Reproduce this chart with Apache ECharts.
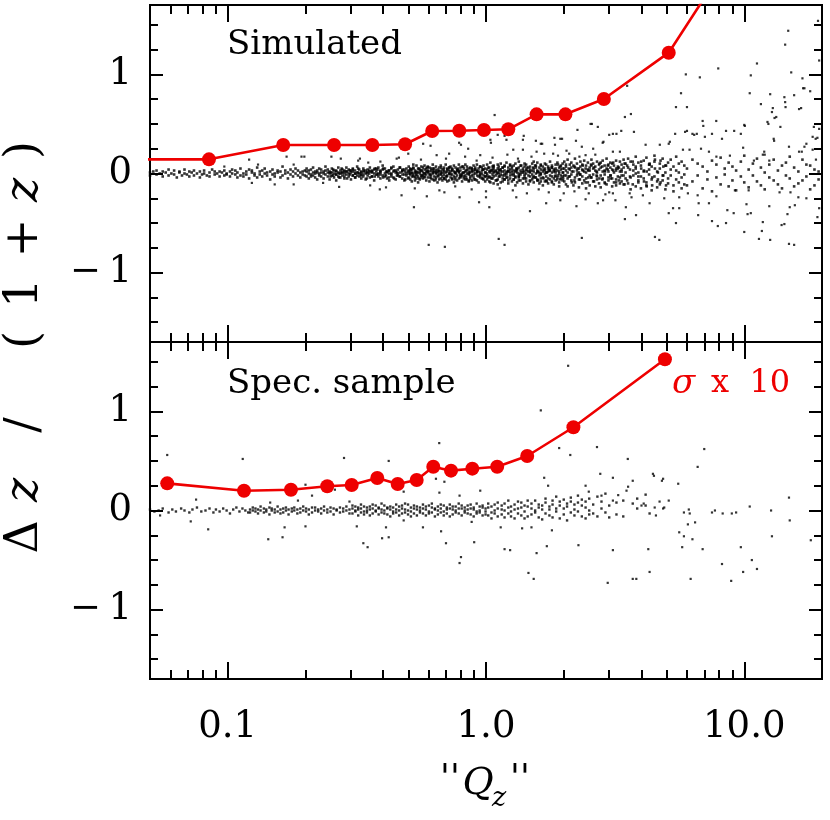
<!DOCTYPE html>
<html><head><meta charset="utf-8">
<script src="https://cdn.jsdelivr.net/npm/echarts@6/dist/echarts.min.js"></script>
<style>html,body{margin:0;padding:0;background:#fff}#c{width:830px;height:820px}</style>
</head><body><div id="c"></div>
<script>
// ---------- axes ----------
const xMin = 0.05, xMax = 20;
const yMin = -1.7, yMax = 1.7;
const xMajor = [0.1, 1, 10];
const xMinor = [0.06,0.07,0.08,0.09,0.2,0.3,0.4,0.5,0.6,0.7,0.8,0.9,2,3,4,5,6,7,8,9];
const xTickLabels = ['0.1','1.0','10.0'];
const yMajor = [-1, 0, 1];
const yMinor = [-1.5,-1.25,-0.75,-0.5,-0.25,0.25,0.5,0.75,1.25,1.5];
const yTickLabels = ['\u2212\u20091','0','1'];

// ---------- sigma x 10 curves ----------
const simSigmaQ = [0.035,0.0846,0.164,0.258,0.363,0.486,0.619,0.788,0.982,1.22,1.57,2.03,2.86,5.10,7.0];
const simSigmaV = [0.143,0.143,0.288,0.288,0.288,0.295,0.429,0.432,0.439,0.446,0.597,0.597,0.752,1.219,1.77];
const specSigmaQ = [0.0583,0.1156,0.1757,0.2428,0.3019,0.3793,0.455,0.539,0.625,0.732,0.885,1.105,1.444,2.18,4.93];
const specSigmaV = [0.274,0.20,0.21,0.244,0.257,0.328,0.267,0.308,0.442,0.402,0.422,0.442,0.55,0.84,1.526];

// ---------- simulated sample: core band (rows: [Qz, dz1, dz2, ...]) ----------
const simBand = [
[.050,.01,-.02],[.0515,.02],[.053,-.01,.03],[.0545,0],[.056,-.03,.02],[.0575,.01],[.059,-.02,.04],[.0605,0],[.062,.03,-.01],[.0635,-.04],[.065,.01,.02],[.0665,-.02],[.068,0,.04],[.0695,-.01],[.071,.02,-.03],[.0725,.01],[.074,-.02,.03],[.076,0],[.078,.02,-.04],[.0795,-.01],[.081,.03,0],[.083,-.02],[.085,.01,-.03],[.087,.04],[.089,-.01,.02],[.091,0],[.093,-.03,.02],[.095,.01],[.097,-.02,.03],[.099,0,-.01],
[.102,.02,-.03],[.104,0,.04],[.107,-.01,.03],[.109,-.04,.01],[.112,-.02,.05],[.115,0,-.03],[.118,.02,-.01],[.121,.04,-.05],[.124,.01,.03],[.127,-.02,0],[.130,.06,-.04],[.133,.02,-.01],[.136,.03,-.03],[.139,0,.05],[.142,-.02,.01],[.146,-.06,.02],[.149,.04,-.01],[.152,0,-.03],[.156,.03,.01],[.160,-.04,.02],[.163,.07,-.02],[.167,0,.03],[.171,-.05,.01],[.175,-.01,.04],[.179,-.03,.02],[.183,.05,0],[.187,-.02,.03],[.191,.01,-.04],[.195,-.01,.02],[.199,.03,-.02],
[.202,.02,-.03,.05],[.206,0,-.05,.03],[.210,-.01,.04,-.03],[.214,.06,-.02,.01],[.218,-.04,.02,0],[.222,.03,-.06,.01],[.226,-.02,.05,0],[.230,.01,-.03,.04],[.235,-.05,.02,0],[.239,.03,-.01,.07],[.244,-.03,.01,.04],[.248,0,-.06,.02],[.253,.05,-.02,.01],[.258,-.04,.03,0],[.263,.02,-.01,-.07],[.268,.06,-.03,.01],[.273,0,.03,-.04],[.278,-.02,.04,.01],[.283,.03,-.05,0],[.288,-.01,.02,.06],[.294,.04,-.03,0],[.300,-.06,.01,.03],[.305,.02,-.02,.05],[.311,-.04,0,.03],[.317,.01,.07,-.02],[.323,-.03,.04,0],[.329,.02,-.05,.01],[.335,.05,-.01,-.03],[.342,0,.03,-.06],[.348,.04,-.02,.01],[.355,-.04,.02,.06],[.362,.01,-.03,.03],[.369,-.07,.04,0],[.376,.02,-.01,.05],[.383,-.03,.06,0],[.390,.03,-.05,.01],[.398,-.02,.04,.08],[.406,.05,-.03,0],[.414,-.05,.02,.01],[.422,.03,-.07,0],[.430,-.01,.05,-.03],[.438,.02,-.04,.07],[.447,-.06,.01,.03],[.456,.04,-.02,0],[.465,-.03,.06,.01],[.474,.02,-.05,.03],[.483,-.01,.04,-.07],[.492,.05,-.02,0],
[.502,.03,-.04,.07,0],[.509,-.06,.02,.05,-.01],[.516,.01,-.08,.04,-.03],[.523,.06,-.02,0,.09],[.531,-.04,.03,-.07,.01],[.538,.02,-.01,.08,-.05],[.546,-.03,.05,.01,-.09],[.554,.04,-.06,.02,0],[.562,-.02,.07,-.04,.03],[.570,.01,-.05,.06,-.02],[.578,.08,-.03,0,.04],[.587,-.07,.02,.05,-.01],[.595,.03,-.04,.01,.07],[.604,-.01,.06,-.08,.02],[.613,.05,-.02,.03,-.05],[.622,-.06,.01,.09,0],[.631,.02,-.03,.05,-.07],[.640,.07,0,-.04,.03],[.649,-.02,.04,-.09,.01],[.659,.03,-.06,.06,-.01],[.668,-.05,.02,.08,0],[.678,.01,-.07,.04,-.03],[.688,.06,-.01,-.05,.02],[.698,-.03,.09,.01,-.06],[.708,.04,-.02,.05,-.08],[.719,-.07,.03,0,.06],[.729,.02,-.04,.07,-.01],[.740,-.01,.05,-.06,.03],[.751,.08,-.03,.02,-.09],[.762,-.04,.01,.06,0],[.773,.03,-.07,.04,-.02],[.785,-.05,.02,.09,.01],[.796,.06,-.01,-.04,.03],[.808,-.02,.07,-.08,0],[.820,.01,-.05,.05,-.03],[.832,.09,-.02,.02,-.06],[.844,-.06,.04,0,.07],[.857,.02,-.08,.05,-.01],[.869,-.03,.06,.01,-.05],[.882,.05,-.02,-.07,.03],[.895,-.01,.08,.02,-.04],[.909,.04,-.06,.06,0],[.922,-.07,.01,.03,.09],[.936,.02,-.03,-.09,.05],[.950,-.04,.07,.01,-.02],[.964,.06,-.05,.03,0],[.978,-.02,.04,-.06,.08],[.993,.01,-.08,.05,-.03],
[1.01,.04,-.06,.09,0,-.02],[1.03,-.08,.02,.06,-.03],[1.04,.01,-.04,.11,-.09,.03],[1.06,.07,-.01,-.05,.04],[1.07,-.03,.05,-.10,.01,.08],[1.09,.02,-.07,.03,-.02],[1.11,-.06,.09,.01,.05,-.11],[1.12,.03,-.03,.07,0],[1.14,-.09,.04,-.01,.10,.02],[1.16,.06,-.05,.02,-.08],[1.18,-.02,.08,-.06,.03,0],[1.20,.11,-.04,.01,-.01],[1.22,-.07,.03,.06,-.10,.02],[1.24,.04,-.02,-.05,.09],[1.26,-.01,.07,.02,-.08,.05],[1.28,.08,-.06,0,.03],[1.30,-.04,.02,.10,-.03,-.12],[1.32,.05,-.09,.04,.01],[1.34,-.02,.06,-.04,.12,0],[1.36,.03,-.07,.08,-.01],[1.39,-.10,.01,.05,-.05,.03],[1.41,.07,-.03,.02,.10],[1.43,-.05,.09,-.08,0,.04],[1.46,.02,-.02,.06,-.11],[1.48,-.08,.04,.01,.07,-.03],[1.51,.10,-.06,.03,-.01],[1.53,-.03,.05,-.09,.02,.12],[1.56,.06,-.04,0,.08],[1.58,-.06,.11,.03,-.07,.01],[1.61,.01,-.10,.06,-.02],[1.63,.09,-.01,-.05,.04,-.08],[1.66,-.04,.07,.02,-.12],[1.69,.03,-.08,.10,0,.05],[1.71,-.07,.01,-.03,.09],[1.74,.05,-.05,.07,-.10,.02],[1.77,-.02,.12,-.06,.03],[1.80,.08,-.03,.01,-.09,.06],[1.83,-.05,.04,-.11,.02],[1.86,.01,-.07,.09,.05,-.02],[1.89,.11,-.04,.03,-.06],[1.92,-.09,.06,0,.02,-.13],[1.95,.04,-.02,.08,-.05],[1.98,-.03,.10,-.07,.01,.05],
[2.01,.05,-.08,.12,-.02],[2.04,-.11,.03,.07],[2.07,.01,-.05,.14,-.13],[2.11,.09,-.03,.04],[2.14,-.07,.11,-.01,.06],[2.18,.02,-.12,.08],[2.21,-.04,.06,-.09,.15],[2.25,.10,-.02,.03],[2.29,-.14,.05,-.06,.01],[2.32,.07,-.01,.12],[2.36,-.03,.09,-.10,.04],[2.40,.13,-.07,.02],[2.44,-.05,.01,.08,-.15],[2.48,.04,-.09,.11],[2.52,-.12,.06,-.02,.03],[2.56,.08,-.04,.14],[2.60,-.01,.10,-.08,.05],[2.65,.03,-.13,.07],[2.69,-.06,.12,.01,-.03],[2.74,.09,-.10,.04],[2.78,-.02,.06,-.14,.11],[2.83,.13,-.05,.02],[2.88,-.09,.03,.08,-.01],[2.93,.05,-.11,.15],[2.98,-.04,.09,-.07,.02],[3.03,.11,-.02,.06],[3.08,-.13,.04,-.05,.10],[3.13,.01,.08,-.09],[3.19,-.06,.13,.03,-.12],[3.24,.07,-.03,.05],[3.30,-.10,.02,.12,-.04],[3.35,.04,-.08,.09],[3.41,-.02,.14,-.11,.06],[3.47,.10,-.05,.01],
[3.55,.06,-.10,.15],[3.63,-.04,.12,-.16],[3.72,.09,-.02,.03],[3.80,-.13,.17,.05],[3.89,.01,-.07,.11],[3.98,-.15,.08,-.03],[4.08,.13,-.05,.02],[4.18,-.09,.16,-.12],[4.28,.04,-.01,.09],[4.38,-.17,.07,-.06],[4.49,.12,-.03,.18],[4.60,-.08,.02,-.14],[4.71,.10,-.11,.05],[4.83,-.02,.15,-.07],[4.95,.08,-.16,.01],[5.07,-.05,.11,-.10],[5.19,.14,-.02,.04],[5.32,-.12,.07,-.18],[5.45,.03,.17,-.06],[5.58,-.09,.10,.01],[5.72,.12,-.04,-.15],[5.86,-.01,.08,-.11],
[6.0,.05,-.12],[6.3,-.08,.14],[6.6,.10,-.02],[6.9,-.15,.07],[7.2,.02,-.06],[7.5,.13,-.18],[7.8,-.04,.09],[8.1,.16,-.11],[8.4,-.01,.05],[8.7,-.13,.11],[9.0,.07,-.07],[9.3,-.17,.03],[9.7,.12,-.03],[10.0,-.09,.18],[10.4,.04,-.14],[10.8,-.02,.10],[11.2,.15,-.08],[11.6,-.12,.06],[12.0,.01,-.16],[12.5,.09,-.04],[13.0,-.07,.14],[13.5,.03,-.11],[14.0,-.15,.08],[14.5,.11,-.02],[15.0,-.05,.17],[15.6,.06,-.13],[16.2,-.10,.02],[16.8,.14,-.07],[17.4,-.03,.09],[18.0,.08,-.16],[18.7,-.12,.04],[19.4,.02,-.06]
];
// extra points filling the densest part of the band
const simCore = [
[.250,.01,-.03],[.256,-.02,.04],[.263,.03,-.01],[.270,0,-.04],[.276,.05,.01],[.283,-.03,.02],[.290,.02,-.05],[.297,-.01,.03],[.305,.04,-.02],[.312,-.04,0],[.320,.01,.05],[.328,-.02,-.01],[.336,.03,.02],[.345,-.05,.01],[.353,0,.03],[.362,.02,-.03],[.371,-.03,.05],[.380,.04,-.01],[.390,-.01,.02],[.400,.05,-.04],
[.410,.02,-.02],[.420,-.04,.03],[.430,0,.06],[.441,.03,-.05],[.452,-.02,.01],[.463,.06,-.03],[.475,-.01,.04],[.487,.02,-.06],[.499,-.05,.02],[.511,.04,0],[.524,-.03,.05],[.537,.01,-.02],[.550,.05,-.05],[.564,-.02,.03],[.578,0,-.04],[.593,.06,.02],[.608,-.04,-.01],[.623,.03,.05],[.638,-.06,.01],[.654,.02,-.03],
[.671,-.01,.06],[.687,.04,-.05],[.705,-.03,.02],[.722,.06,0],[.740,-.05,.04],[.759,.01,-.06],[.778,.03,.05],[.797,-.02,-.03],[.817,.07,.01],[.838,-.04,.03],[.859,0,-.07],[.880,.05,.02],[.902,-.06,.04],[.925,.02,-.02],[.948,-.01,.07],[.972,.04,-.05],[.996,-.03,.01],[1.02,.06,-.04],[1.05,-.05,.03],[1.07,.02,.07],
[1.10,-.07,0],[1.13,.04,-.03],[1.16,-.02,.06],[1.18,.07,-.06],[1.21,-.04,.02],[1.24,.01,.08],[1.28,-.06,-.02],[1.31,.05,.03],[1.34,-.03,-.07],[1.37,.08,.01],[1.41,-.01,-.05],[1.44,.03,.06],[1.48,-.07,.02],[1.52,.06,-.04],[1.55,-.04,.08],[1.59,.02,-.07],[1.63,.08,0],[1.67,-.05,.04],[1.72,.01,-.08],[1.76,.05,.03],
[1.80,-.08,.06],[1.85,.03,-.03],[1.90,-.02,.09],[1.94,.07,-.06],[1.99,-.05,.01],[2.04,.09,-.02],[2.09,-.03,.05],[2.15,.02,-.09],[2.20,-.07,.07],[2.26,.05,0],[2.31,-.01,-.06],[2.37,.08,.03],[2.43,-.09,.05],[2.49,.03,-.04],[2.55,-.04,.09],[2.62,.06,-.08],[2.68,-.02,.02],[2.75,.1,-.05],[2.82,-.06,.07],[2.89,.02,-.1],
[2.96,.08,.04],[3.04,-.05,-.02],[3.11,.03,.11],[3.19,-.09,.05],[3.27,.06,-.07],[3.35,-.02,.02],[3.44,.1,-.11],[3.52,-.07,.08],[3.61,.04,-.03],[3.70,-.11,.12],[3.80,.07,0],[3.89,-.03,-.09],[3.99,.12,.05],[4.09,-.08,.03],[4.19,.02,-.13],[4.30,.09,.1],[4.40,-.12,-.04],[4.51,.05,.14],[4.63,-.06,.01],[4.74,.13,-.09],[4.86,-.02,.07],[4.98,.08,-.12]
];

// ---------- simulated sample: scattered points [Qz, dz] ----------
const simOutHigh = [
[14.8,1.44],[14.4,1.30],[19.3,1.54],[19.5,1.14],[11.2,1.11],[7.93,1.06],[15.2,1.02],[5.94,1.0],[6.73,.97],[10.6,.99],[16.8,.96],[17.1,.86],[18.0,.83],[5.69,.81],[10.5,.81],[12.6,.80],[14.3,.77],[14.4,.72],[11.6,.70],[5.44,.67],[6.0,.67],[12.9,.66],[12.8,.62],[16.6,.66],[3.52,.885],[3.45,.57],[3.64,.60],[13.3,.57],[7.79,.53],[6.9,.53],[6.94,.48],[10.0,.49],[12.3,.52],[13.8,.47],[18.6,.47],[2.85,.32],[3.0,.39],[3.1,.40],[3.2,.40],[3.34,.43],[3.74,.42],[5.4,.40],[6.0,.43],[6.3,.40],[6.55,.40],[7.04,.37],[7.5,.40],[8.2,.35],[9.14,.43],[9.7,.40],[13.0,.35],[13.05,.33],[14.9,.27],[16.3,.22],[16.7,.22],[17.4,.30],[18.4,.37],[18.9,.35],[18.95,.14],[4.71,.29],[5.15,.32],[5.79,.24],[6.14,.24],[6.8,.25],[7.3,.22],[7.8,.17],[8.8,.18],[9.9,.26],[10.9,.13],[11.95,.22],[11.8,.19],[12.5,.13],[4.15,.29],[5.1,.30],[5.9,.42],[6.4,.39],[8.5,.43],[10.05,.48],[12.0,.19],[13.1,.56],[12.4,.50],[14.45,.67],[16.3,.65],[15.6,.79],[16.9,.86],[19.5,.45],[19.2,.36],[17.1,.27],[18.4,.24]
];
const simOutMid = [
[1.08,.59],[2.26,.44],[2.57,.50],[2.71,.47],[1.84,.36],[1.94,.35],[1.63,.30],[1.39,.34],[1.18,.38],[1.04,.34],[2.54,.50],[1.56,.33],[1.97,.35],[1.40,.38],[1.85,.29],[2.23,.33],[2.83,.31],[.571,.30],[.61,.28],[.787,.31],[.80,.29],[1.045,.31],[1.11,.39],[1.2,.34],[1.65,.30],[1.82,.20],[2.35,.27],[.121,.14],[.169,.17],[.193,.17],[.198,.17],[.252,.17],[.274,.15],[.325,.15],[.35,.11],[.39,.12],[.131,.09],[.18,.09],[.097,.07],[.451,.15],[.50,.20],[.644,.185],[.72,.20],[.853,.25],[.95,.185],[1.275,.24],[1.39,.24],[1.57,.22],[2.05,.23],[2.43,.185],[2.6,.25],[3.1,.22],
[.32,.13],[.41,-.14],[.46,.16],[.53,-.15],[.56,.14],[.66,-.17],[.70,.15],[.76,-.13],[.83,.17],[.88,-.16],[.92,.13],[1.0,-.18],[1.06,.16],[1.13,-.15],[1.21,.19],[1.27,-.17],[1.33,.15],[1.44,-.2],[1.5,.17],[1.6,-.16],[1.68,.2],[1.75,-.19],[1.9,.18],[2.0,-.2],[2.1,.2],[2.2,-.18],[2.3,.17],[2.5,-.2],[2.65,.19],[2.9,-.21],[3.3,.22],[3.6,-.2]
];
const simOutLow = [
[.60,-.72],[.693,-.74],[1.12,-.66],[1.18,-.72],[2.35,-.65],[.526,-.34],[1.48,-.38],[1.03,-.34],[.94,-.29],[2.24,-.33],[2.71,-.30],[3.17,-.27],[.471,-.22],[.59,-.23],[.69,-.19],[.79,-.24],[1.0,-.24],[1.31,-.24],[1.71,-.30],[1.94,-.27],[2.43,-.26],[3.0,-.19],[.388,-.16],[.356,-.12],[.27,-.135],[.234,-.095],[.18,-.11],[.152,-.11],[.124,-.095],[3.48,-.34],[3.81,-.42],[3.45,-.46],[4.51,-.64],[4.69,-.67],[5.44,-.50],[5.6,-.35],[5.1,-.40],[5.3,-.35],[6.63,-.42],[6.66,-.30],[7.3,-.30],[7.5,-.48],[7.9,-.53],[8.5,-.50],[8.6,-.37],[9.1,-.40],[10.0,-.59],[10.2,-.31],[10.3,-.41],[10.6,-.40],[11.4,-.66],[11.7,-.58],[11.8,-.49],[12.5,-.33],[12.6,-.67],[13.95,-.52],[14.3,-.51],[14.9,-.71],[15.6,-.72],[14.7,-.41],[15.0,-.34],[15.7,-.32],[16.2,-.24],[17.4,-.25],[19.2,-.44],[19.5,-.35],[15.1,-.19],[13.7,-.19],[10.4,-.17],[9.2,-.17],[7.8,-.23],[6.6,-.22],[6.05,-.20],[5.6,-.24],[4.9,-.25],[4.3,-.30],[4.05,-.22],[3.66,-.24],[3.1,-.20],[2.84,-.27]
];

// ---------- spectroscopic sample ----------
const specBand = [
[.050,.01],[.052,-.01],[.054,0],[.056,.02],[.059,-.02],[.061,.01],[.063,-.01],[.066,.02],[.068,0],[.071,-.02],[.073,.01],[.076,.03],[.079,-.01],[.082,0],[.085,.02],[.088,-.02],[.090,.01],[.093,-.01],[.096,.02],[.099,0],[.102,-.03],[.105,.01],[.108,.03],[.111,-.01],[.114,.02],[.117,0],[.120,-.02],
[.122,.01,-.02],[.125,.03,0],[.128,-.01,.02],[.131,-.03,.01],[.134,0,.04],[.138,.02,-.02],[.141,-.01,.01],[.145,.03,-.04],[.148,0,.02],[.152,-.02,.01],[.156,.04,-.01],[.160,.01,-.03],[.164,-.02,.02],[.168,.03,0],[.172,-.04,.01],[.177,.02,-.01],[.181,0,.03],[.186,-.03,.01],[.191,.02,-.02],[.196,.04,0],[.201,-.01,.02],[.206,.01,-.04],[.212,-.02,.03],[.218,.03,0],[.224,-.01,.01],[.230,.02,-.03],[.236,0,.04],[.243,-.02,.01],[.250,.03,-.01],[.257,-.04,.02],[.264,.01,0],[.272,-.02,.03],[.280,.02,-.01],[.288,0,.04],[.296,-.03,.01],
[.304,.02,-.03,.05],[.312,-.01,.04,0],[.320,.03,-.05,.01],[.328,-.02,.02,.06],[.337,.04,-.01,-.04],[.346,0,.03,-.02],[.355,-.05,.01,.04],[.364,.02,-.03,.06],[.374,-.01,.05,0],[.384,.03,-.04,.02],[.394,-.02,.01,.07],[.404,.05,-.03,0],[.415,-.04,.02,.03],[.426,.01,-.06,.04],[.437,.03,-.01,-.03],[.449,-.02,.06,.01],[.461,.04,-.05,0],[.473,-.03,.02,.05],[.486,.01,-.02,.07],[.499,.06,-.04,0],[.512,-.01,.03,-.06],[.526,.02,-.03,.05],[.540,-.05,.01,.04],[.555,.03,-.02,0],[.570,-.03,.06,.02],[.585,.01,-.05,.04],[.601,.05,-.01,-.03],[.617,-.02,.03,.07],[.634,.02,-.06,.01],[.651,-.04,.04,0],[.668,.06,-.02,.02],[.686,-.01,.05,-.05],[.705,.03,-.03,.01],[.724,-.06,.02,.06],[.743,.01,-.04,.04],[.763,.04,0,-.02],[.784,-.03,.07,.02],[.805,.02,-.05,.05],[.827,-.02,.03,0],[.849,.05,-.03,.01],[.872,-.04,.02,.06],[.896,.01,-.06,.03],[.920,.07,-.01,-.03],[.945,-.02,.04,0],[.970,.03,-.05,.05],[.996,-.01,.02,-.04],
[1.02,.03,-.05,.07],[1.05,-.02,.04,-.08],[1.08,.06,0,-.03],[1.11,-.06,.02,.08],[1.15,.01,-.04,.05],[1.18,.07,-.07,0],[1.22,-.03,.03,.1],[1.25,.04,-.01,-.06],[1.29,-.08,.06,.01],[1.33,.02,-.03,.09],[1.37,.08,-.05,.03],[1.41,-.01,.05,-.08],[1.45,.04,-.06,.1],[1.50,-.04,.02,.07],[1.55,.1,-.02,0],[1.60,-.07,.06,.03],[1.65,.01,-.09,.05],[1.70,.08,-.03,.12],[1.76,-.05,.04,.01],[1.81,.06,-.07,.1],[1.87,.02,-.01,.14],[1.93,-.08,.05,.09],[2.00,.11,-.04,.02],[2.06,.04,-.1,.07],[2.13,-.02,.09,.13],[2.20,.06,-.05,.01],[2.27,.15,-.01,.08],[2.35,-.06,.05,.11],[2.43,.03,-.08,.09],[2.51,.12,0,-.04],
[2.6,.06,-.03],[2.7,.14,-.06],[2.8,.02,.09],[2.9,.17,-.02],[3.0,.05,-.07],[3.2,-.04,.08],[3.4,.1,-.06],[3.7,.07],[3.85,.02,.12],[4.15,.05,.16],[4.3,-.03]
];
const specOut = [
[.0583,.56],[.1143,.52],[.282,.53],[.42,.50],[.659,.68],[.0754,.11],[.0719,-.11],[.084,-.19],[.1435,-.29],[.163,-.27],[.166,-.17],[.2,-.16],[.2,.26],[.212,.15],[.187,.10],[.146,.08],[.26,.21],[.296,.09],[.335,-.33],[.348,-.37],[.396,-.28],[.41,-.17],[.42,-.27],[.48,.19],[.64,.32],[.66,.18],[.69,.29],[.79,-.53],[.80,-.47],[.70,-.33],[.67,-.21],[.79,.15],[.95,.20],[.9,-.32],[.88,-.115],[.0547,-.05],[.57,-.17],[.48,-.10],[.316,-.16],
[2.08,1.46],[1.63,1.01],[1.92,.63],[2.12,.56],[2.69,.64],[3.54,.52],[1.68,.33],[1.74,.25],[2.43,.25],[2.77,.37],[3.1,.33],[4.43,.37],[4.85,.32],[3.7,.30],[2.5,.19],[2.8,.15],[3.1,.10],[3.25,.155],[3.5,.20],[3.55,.24],[4.0,.05],[4.08,.07],[4.5,.03],[4.55,-.05],[4.7,.09],[4.85,.02],[4.9,.03],[4.8,.30],[5.1,.10],[4.47,.35],
[5.84,-.02],[6.1,.01],[6.15,-.03],[6.05,-.14],[6.45,-.12],[5.6,-.22],[5.84,-.26],[6.3,-.29],[5.75,-.37],[7.5,-.02],[7.7,0],[8.25,-.03],[8.95,-.03],[9.3,-.02],[10.5,.04],[12.7,0],[15.0,-.1],[12.8,-.26],[18.1,-.30],[14.9,.13],[6.9,-.39],[9.7,-.37],[10.7,-.5],[11.2,-.59],[9.9,-.62],[8.9,-.71],[8.2,-.54],[6.2,-.69],[6.6,.44],[7.0,.62],[5.55,.27],
[1.18,-.39],[1.24,-.40],[1.46,-.63],[1.53,-.69],[1.57,-.43],[1.72,-.36],[2.28,-.35],[2.96,-.73],[3.1,-.40],[3.7,-.69],[3.82,-.69],[4.3,-.62],[4.25,-.39],[1.38,-.18],[1.50,-.17],[1.8,-.20],[1.14,-.17]
];

// ---------- build ----------
function rowsToPoints(rows){ const out=[]; rows.forEach(r=>{ for(let i=1;i<r.length;i++) out.push([r[0], r[i]]); }); return out; }
function zip(a,b){ return a.map((v,i)=>[v,b[i]]); }

const SERIF = 'DejaVu Serif';
const RED = '#ee0000';
const tickStyle = {color:'#000', width:2};

function xAxesFor(g, withLabels){
  const base = {type:'log', logBase:10, min:xMin, max:xMax, gridIndex:g,
    splitLine:{show:false}, axisLine:{show:false, onZero:false}, minorTick:{show:false}};
  const mk = (pos, vals, len, lab) => Object.assign({}, base, {
    position:pos,
    axisTick:{show:true, inside:true, length:len, customValues:vals, lineStyle:tickStyle},
    axisLabel: lab ? {show:true, customValues:xMajor, margin:30, color:'#000', fontFamily:SERIF, fontSize:37,
      formatter: v => xTickLabels[xMajor.findIndex(m => Math.abs(Math.log10(m)-Math.log10(v)) < 0.01)]} : {show:false}
  });
  return [mk('bottom', xMajor, 17, withLabels), mk('bottom', xMinor, 9, false), mk('top', xMajor, 17, false), mk('top', xMinor, 9, false)];
}
function yAxesFor(g){
  const base = {type:'value', min:yMin, max:yMax, gridIndex:g,
    splitLine:{show:false}, axisLine:{show:false, onZero:false}};
  const mk = (pos, vals, len, lab) => Object.assign({}, base, {
    position:pos,
    axisTick:{show:true, inside:true, length:len, customValues:vals, lineStyle:tickStyle},
    axisLabel: lab ? {show:true, customValues:yMajor, margin:18, color:'#000', fontFamily:SERIF, fontSize:37,
      formatter: v => yTickLabels[yMajor.findIndex(m => Math.abs(m - v) < 1e-6)]} : {show:false}
  });
  return [mk('left', yMajor, 13, true), mk('left', yMinor, 8, false), mk('right', yMajor, 13, false), mk('right', yMinor, 8, false)];
}

function dots(data, xi, size){
  return {type:'scatter', xAxisIndex:xi, yAxisIndex:xi, data:data, symbol:'rect', symbolSize:size,
    itemStyle:{color:'#000'}, silent:true, z:2};
}
function sigma(data, xi){
  return {type:'line', xAxisIndex:xi, yAxisIndex:xi, data:data, symbol:'circle', symbolSize:14, showAllSymbol:true,
    lineStyle:{color:RED, width:2.6}, itemStyle:{color:RED}, silent:true, z:5, clip:true};
}

const T = (x, y, text, font, extra) => Object.assign({type:'text', x:x, y:y,
  style:{text:text, font:font, fill:'#000', align:'center', verticalAlign:'middle'}}, extra || {});
const YT = (y, text, italic) => T(25, y, text, (italic ? 'italic ' : '') + '46px "DejaVu Serif"', {rotation:Math.PI/2});

const option = {
  animation:false,
  backgroundColor:'#fff',
  grid:[
    {left:150, top:5, width:672, height:337, show:true, borderColor:'#000', borderWidth:2},
    {left:150, top:342, width:672, height:337, show:true, borderColor:'#000', borderWidth:2}
  ],
  xAxis: xAxesFor(0, false).concat(xAxesFor(1, true)),
  yAxis: yAxesFor(0).concat(yAxesFor(1)),
  series:[
    dots(rowsToPoints(simBand).concat(rowsToPoints(simCore)), 0, 2.6),
    dots(simOutHigh.concat(simOutMid, simOutLow), 0, 2.2),
    sigma(zip(simSigmaQ, simSigmaV), 0),
    dots(rowsToPoints(specBand), 4, 2.4),
    dots(specOut, 4, 2.2),
    sigma(zip(specSigmaQ, specSigmaV), 4)
  ],
  graphic:[
    {type:'text', x:227, y:45, style:{text:'Simulated', font:'34px "DejaVu Serif"', fill:'#000', align:'left', verticalAlign:'middle'}},
    {type:'text', x:227, y:384, style:{text:'Spec. sample', font:'34px "DejaVu Serif"', fill:'#000', align:'left', verticalAlign:'middle'}},
    {type:'text', x:672, y:384, style:{text:'\u03c3', font:'italic 34px "DejaVu Serif"', fill:RED, align:'left', verticalAlign:'middle'}},
    {type:'text', x:711, y:384, style:{text:'x  10', font:'32px "DejaVu Serif"', fill:RED, align:'left', verticalAlign:'middle'}},
    // x-axis title  ''Q_z''
    T(450, 780, "''", 'italic 36px "DejaVu Serif"'),
    T(478, 784, 'Q', 'italic 38px "DejaVu Serif"'),
    T(499, 799, 'z', 'italic 27px "DejaVu Serif"'),
    T(520, 780, "''", 'italic 36px "DejaVu Serif"'),
    // y-axis title  Δ z / (1+z)
    YT(537, '\u0394'), YT(490, 'z', true), YT(425, '/'),
    YT(340, '('), YT(293, '1'), YT(238, '+'), YT(190, 'z', true), YT(150, ')')
  ]
};
const chart = echarts.init(document.getElementById('c'), null, {renderer:'canvas'});
chart.setOption(option);
</script></body></html>
